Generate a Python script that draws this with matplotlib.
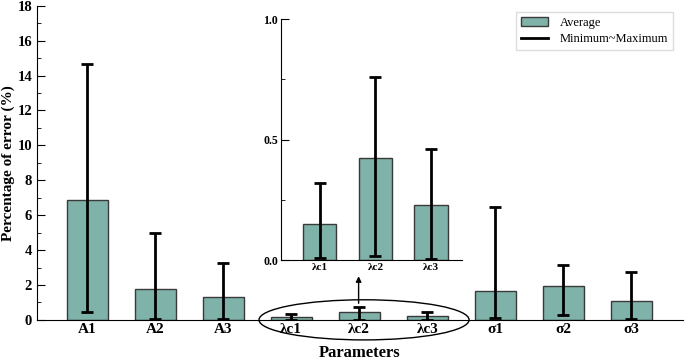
import matplotlib.pyplot as plt
from matplotlib.patches import Ellipse
from matplotlib.lines import Line2D

# Data
params = ['A1', 'A2', 'A3', 'λc1', 'λc2', 'λc3', 'σ1', 'σ2', 'σ3']
avg = [6.88, 1.79, 1.32, 0.152, 0.425, 0.228, 1.66, 1.96, 1.08]
err_min = [0.44, 0.05, 0.05, 0.011, 0.018, 0.005, 0.08, 0.29, 0.05]
err_max = [14.69, 4.97, 3.24, 0.32, 0.762, 0.46, 6.45, 3.15, 2.75]

inset_idx = [3, 4, 5]

bar_color = '#7fb2a8'
edge_color = '#3a3a3a'

plt.rcParams['font.family'] = ['Liberation Serif', 'DejaVu Serif']

fig = plt.figure(figsize=(6.85, 3.61), dpi=100)
ax = fig.add_axes([0.054, 0.114, 0.943, 0.87])

x = list(range(len(params)))
lo = [a - m for a, m in zip(avg, err_min)]
hi = [m - a for a, m in zip(avg, err_max)]
ax.bar(x, avg, width=0.6, color=bar_color, edgecolor=edge_color, linewidth=1, zorder=2)
ax.errorbar(x, avg, yerr=[lo, hi], fmt='none', ecolor='black', elinewidth=2,
            capsize=4, capthick=2, zorder=3)

ax.set_xlim(-0.74, 8.76)
ax.set_ylim(0, 18)
ax.set_yticks(range(0, 19, 2))
ax.set_yticks(range(0, 19, 1), minor=True)
ax.set_xticks(x)
ax.set_xticklabels(params, fontweight='bold', fontsize=11)
ax.tick_params(axis='y', which='major', direction='in', length=6, labelsize=10.5)
ax.tick_params(axis='y', which='minor', direction='in', length=3)
ax.tick_params(axis='x', length=0, pad=2)
for lab in ax.get_yticklabels():
    lab.set_fontweight('bold')
ax.spines['top'].set_visible(False)
ax.spines['right'].set_visible(False)
ax.set_xlabel('Parameters', fontweight='bold', fontsize=12, labelpad=7)
ax.set_ylabel('Percentage of error (%)', fontweight='bold', fontsize=11, labelpad=2)

handles = [plt.Rectangle((0, 0), 1, 1, facecolor=bar_color, edgecolor=edge_color, lw=1),
           Line2D([0], [0], color='black', lw=2)]
ax.legend(handles, ['Average', 'Minimum~Maximum'], loc='upper right',
          bbox_to_anchor=(0.995, 1.0), fontsize=9, handlelength=2.1,
          labelspacing=0.35, handletextpad=1.0, borderpad=0.4,
          framealpha=1, edgecolor='#dddddd', fancybox=False)

# ellipse and arrow marking the zoomed bars
ell = Ellipse((4.07, 0.0), 3.09, 2.3, fill=False, edgecolor='black', lw=1, clip_on=False)
ax.add_patch(ell)
ax.annotate('', xy=(3.99, 2.5), xytext=(3.99, 0.95),
            arrowprops=dict(arrowstyle='-|>', color='black', lw=1, mutation_scale=8,
                            shrinkA=0, shrinkB=0))

# inset
ins = fig.add_axes([0.41, 0.279, 0.264, 0.668])
xi = [0, 1, 2]
ia = [avg[i] for i in inset_idx]
ilo = [avg[i] - err_min[i] for i in inset_idx]
ihi = [err_max[i] - avg[i] for i in inset_idx]
ins.bar(xi, ia, width=0.6, color=bar_color, edgecolor=edge_color, linewidth=1, zorder=2)
ins.errorbar(xi, ia, yerr=[ilo, ihi], fmt='none', ecolor='black', elinewidth=2,
             capsize=4, capthick=2, zorder=3)
ins.set_xlim(-0.7, 2.55)
ins.set_ylim(0, 1.0)
ins.set_yticks([0.0, 0.5, 1.0])
ins.set_yticks([0.25, 0.75], minor=True)
ins.set_xticks(xi)
ins.set_xticklabels([params[i] for i in inset_idx], fontweight='bold', fontsize=8)
ins.tick_params(axis='y', which='major', direction='in', length=6, labelsize=8.5, pad=2)
ins.tick_params(axis='y', which='minor', direction='in', length=3)
ins.tick_params(axis='x', length=0, pad=2)
for lab in ins.get_yticklabels():
    lab.set_fontweight('bold')
ins.spines['top'].set_visible(False)
ins.spines['right'].set_visible(False)
ins.patch.set_alpha(0)

fig.savefig('out.png', dpi=100)
